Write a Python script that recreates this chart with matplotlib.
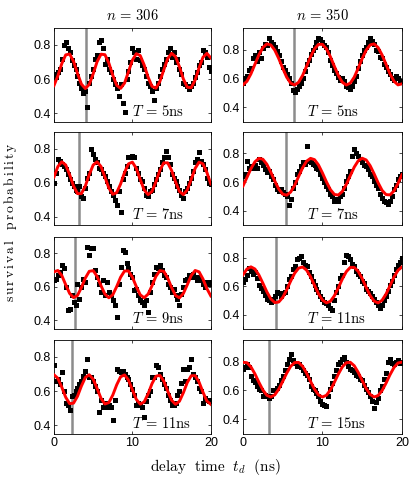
import matplotlib
matplotlib.use('Agg')
import matplotlib.pyplot as plt
import numpy as np

plt.rcParams['mathtext.fontset'] = 'cm'
plt.rcParams['font.family'] = ['Liberation Sans', 'DejaVu Sans']

# delay times (ns): measured points every 0.25 ns, fitted curve sampled every 0.5 ns
t_data = np.linspace(0, 20, 81)
t_fit = np.linspace(0, 20, 41)

# ---- n = 306 ----
surv_306_T5 = [0.63, 0.61, 0.64, 0.66, 0.72, 0.80, 0.82, 0.78, 0.76, 0.71, 0.68, 0.66, 0.62, 0.58, 0.55, 0.52,
               0.53, 0.44, 0.58, 0.62, 0.66, 0.72, 0.74, 0.82, 0.83, 0.78, 0.69, 0.72, 0.66, 0.64, 0.60, 0.57,
               0.55, 0.50, 0.57, 0.46, 0.41, 0.60, 0.65, 0.70, 0.78, 0.76, 0.72, 0.77, 0.71, 0.68, 0.66, 0.62,
               0.58, 0.56, 0.53, 0.48, 0.55, 0.58, 0.62, 0.66, 0.69, 0.72, 0.76, 0.78, 0.73, 0.76, 0.70, 0.72,
               0.66, 0.63, 0.58, 0.57, 0.56, 0.54, 0.56, 0.58, 0.61, 0.64, 0.68, 0.70, 0.77, 0.76, 0.73, 0.67, 0.65]
fit_306_T5 = [0.562, 0.620, 0.691, 0.742, 0.747, 0.704, 0.634, 0.571, 0.545, 0.569, 0.631, 0.702, 0.746, 0.743,
              0.694, 0.623, 0.564, 0.546, 0.577, 0.643, 0.711, 0.749, 0.738, 0.683, 0.612, 0.558, 0.547, 0.586,
              0.654, 0.720, 0.751, 0.732, 0.672, 0.601, 0.553, 0.550, 0.595, 0.666, 0.728, 0.751, 0.724]

surv_306_T7 = [0.60, 0.66, 0.74, 0.73, 0.71, 0.70, 0.68, 0.65, 0.62, 0.60, 0.58, 0.56, 0.55, 0.58, 0.52, 0.51,
               0.57, 0.63, 0.66, 0.80, 0.77, 0.74, 0.72, 0.69, 0.68, 0.66, 0.64, 0.61, 0.58, 0.55, 0.53, 0.50,
               0.47, 0.55, 0.43, 0.62, 0.66, 0.70, 0.75, 0.75, 0.76, 0.75, 0.69, 0.66, 0.62, 0.61, 0.57, 0.53,
               0.52, 0.55, 0.56, 0.59, 0.62, 0.65, 0.68, 0.72, 0.75, 0.79, 0.75, 0.71, 0.65, 0.63, 0.61, 0.58,
               0.56, 0.53, 0.51, 0.55, 0.57, 0.60, 0.63, 0.67, 0.72, 0.74, 0.78, 0.73, 0.71, 0.68, 0.63, 0.60, 0.59]
fit_306_T7 = [0.634, 0.696, 0.724, 0.705, 0.648, 0.581, 0.536, 0.536, 0.581, 0.648, 0.705, 0.724, 0.696, 0.634,
              0.569, 0.532, 0.542, 0.593, 0.661, 0.712, 0.722, 0.685, 0.620, 0.558, 0.530, 0.549, 0.606, 0.673,
              0.718, 0.718, 0.673, 0.606, 0.549, 0.530, 0.558, 0.620, 0.685, 0.722, 0.712, 0.661, 0.593]

surv_306_T9 = [0.64, 0.65, 0.67, 0.69, 0.73, 0.71, 0.60, 0.46, 0.47, 0.55, 0.51, 0.49, 0.62, 0.53, 0.60, 0.65,
               0.63, 0.84, 0.79, 0.83, 0.83, 0.70, 0.66, 0.62, 0.57, 0.64, 0.55, 0.63, 0.57, 0.55, 0.52, 0.49,
               0.42, 0.62, 0.72, 0.82, 0.81, 0.74, 0.71, 0.68, 0.66, 0.58, 0.59, 0.55, 0.52, 0.51, 0.49, 0.52,
               0.45, 0.57, 0.63, 0.68, 0.72, 0.71, 0.73, 0.70, 0.67, 0.66, 0.62, 0.60, 0.57, 0.59, 0.55, 0.53,
               0.49, 0.56, 0.60, 0.64, 0.65, 0.67, 0.66, 0.68, 0.66, 0.64, 0.66, 0.64, 0.62, 0.60, 0.63, 0.62, 0.63]
fit_306_T9 = [0.690, 0.698, 0.668, 0.613, 0.561, 0.536, 0.549, 0.596, 0.653, 0.693, 0.697, 0.663, 0.607, 0.557,
              0.535, 0.553, 0.602, 0.658, 0.695, 0.695, 0.658, 0.602, 0.553, 0.535, 0.557, 0.607, 0.663, 0.697,
              0.693, 0.653, 0.596, 0.549, 0.535, 0.561, 0.613, 0.668, 0.698, 0.690, 0.647, 0.590, 0.546]

surv_306_T11 = [0.75, 0.66, 0.67, 0.64, 0.71, 0.60, 0.53, 0.52, 0.49, 0.57, 0.58, 0.60, 0.62, 0.64, 0.66, 0.69,
                0.72, 0.79, 0.68, 0.68, 0.66, 0.63, 0.60, 0.48, 0.55, 0.51, 0.53, 0.51, 0.52, 0.51, 0.43, 0.55,
                0.73, 0.72, 0.71, 0.72, 0.70, 0.68, 0.67, 0.64, 0.61, 0.58, 0.52, 0.53, 0.52, 0.51, 0.45, 0.54,
                0.58, 0.60, 0.68, 0.68, 0.75, 0.74, 0.70, 0.67, 0.64, 0.62, 0.58, 0.55, 0.52, 0.52, 0.53, 0.58,
                0.60, 0.65, 0.73, 0.66, 0.73, 0.74, 0.79, 0.70, 0.68, 0.66, 0.62, 0.60, 0.53, 0.56, 0.55, 0.54, 0.55]
fit_306_T11 = [0.696, 0.675, 0.623, 0.564, 0.527, 0.530, 0.570, 0.630, 0.680, 0.696, 0.670, 0.616, 0.558, 0.525,
               0.533, 0.577, 0.637, 0.684, 0.695, 0.665, 0.608, 0.552, 0.524, 0.537, 0.584, 0.644, 0.687, 0.693,
               0.659, 0.601, 0.547, 0.523, 0.541, 0.591, 0.651, 0.690, 0.691, 0.653, 0.594, 0.542, 0.523]

# ---- n = 350 ----
surv_350_T5 = [0.57, 0.60, 0.62, 0.66, 0.67, 0.74, 0.76, 0.72, 0.78, 0.74, 0.81, 0.84, 0.83, 0.88, 0.85, 0.84,
               0.82, 0.79, 0.76, 0.72, 0.68, 0.66, 0.63, 0.60, 0.57, 0.52, 0.51, 0.53, 0.55, 0.57, 0.60, 0.65,
               0.70, 0.73, 0.77, 0.80, 0.82, 0.85, 0.88, 0.87, 0.85, 0.83, 0.82, 0.78, 0.73, 0.69, 0.66, 0.64,
               0.61, 0.59, 0.60, 0.58, 0.55, 0.54, 0.53, 0.55, 0.58, 0.62, 0.67, 0.72, 0.76, 0.80, 0.82, 0.85,
               0.88, 0.86, 0.84, 0.80, 0.79, 0.75, 0.74, 0.70, 0.68, 0.65, 0.63, 0.60, 0.59, 0.62, 0.60, 0.58, 0.58]
fit_350_T5 = [0.556, 0.581, 0.632, 0.698, 0.763, 0.814, 0.839, 0.832, 0.796, 0.738, 0.671, 0.609, 0.568, 0.555,
              0.574, 0.621, 0.684, 0.750, 0.805, 0.836, 0.836, 0.805, 0.750, 0.684, 0.621, 0.574, 0.555, 0.568,
              0.609, 0.671, 0.738, 0.796, 0.832, 0.839, 0.814, 0.763, 0.698, 0.632, 0.581, 0.556, 0.563]

surv_350_T7 = [0.64, 0.66, 0.75, 0.70, 0.71, 0.70, 0.72, 0.70, 0.76, 0.74, 0.72, 0.69, 0.67, 0.68, 0.64, 0.62,
               0.58, 0.55, 0.54, 0.55, 0.53, 0.52, 0.50, 0.44, 0.48, 0.56, 0.60, 0.66, 0.68, 0.71, 0.74, 0.73,
               0.85, 0.75, 0.74, 0.73, 0.72, 0.70, 0.69, 0.66, 0.63, 0.60, 0.57, 0.55, 0.52, 0.50, 0.47, 0.48,
               0.47, 0.50, 0.52, 0.56, 0.61, 0.64, 0.68, 0.78, 0.83, 0.80, 0.78, 0.76, 0.74, 0.72, 0.71, 0.69,
               0.66, 0.64, 0.61, 0.58, 0.56, 0.52, 0.49, 0.47, 0.46, 0.45, 0.47, 0.50, 0.55, 0.58, 0.62, 0.64, 0.66]
fit_350_T7 = [0.573, 0.633, 0.694, 0.742, 0.766, 0.760, 0.725, 0.670, 0.608, 0.552, 0.516, 0.509, 0.531, 0.578,
              0.639, 0.700, 0.746, 0.766, 0.757, 0.720, 0.664, 0.602, 0.548, 0.514, 0.510, 0.535, 0.584, 0.645,
              0.705, 0.749, 0.767, 0.755, 0.715, 0.658, 0.596, 0.543, 0.513, 0.511, 0.539, 0.590, 0.652]

surv_350_T11 = [0.63, 0.65, 0.68, 0.73, 0.71, 0.69, 0.70, 0.66, 0.61, 0.59, 0.57, 0.54, 0.51, 0.50, 0.49, 0.51,
                0.53, 0.56, 0.55, 0.53, 0.55, 0.56, 0.60, 0.65, 0.67, 0.72, 0.74, 0.79, 0.80, 0.81, 0.77, 0.75,
                0.74, 0.70, 0.67, 0.64, 0.61, 0.58, 0.56, 0.53, 0.51, 0.49, 0.48, 0.47, 0.45, 0.43, 0.50, 0.56,
                0.60, 0.66, 0.68, 0.77, 0.82, 0.81, 0.79, 0.76, 0.74, 0.71, 0.69, 0.67, 0.64, 0.62, 0.58, 0.57,
                0.55, 0.53, 0.51, 0.49, 0.47, 0.45, 0.47, 0.50, 0.53, 0.57, 0.61, 0.64, 0.68, 0.72, 0.75, 0.77, 0.80]
fit_350_T11 = [0.680, 0.722, 0.737, 0.722, 0.680, 0.622, 0.561, 0.511, 0.485, 0.489, 0.521, 0.575, 0.637, 0.692,
               0.728, 0.736, 0.714, 0.667, 0.607, 0.547, 0.503, 0.483, 0.494, 0.533, 0.589, 0.651, 0.703, 0.733,
               0.733, 0.705, 0.654, 0.592, 0.535, 0.495, 0.483, 0.501, 0.545, 0.604, 0.665, 0.712, 0.736]

surv_350_T15 = [0.75, 0.76, 0.78, 0.76, 0.70, 0.67, 0.66, 0.63, 0.61, 0.60, 0.56, 0.57, 0.56, 0.55, 0.56, 0.60,
                0.60, 0.62, 0.64, 0.67, 0.70, 0.74, 0.78, 0.82, 0.85, 0.81, 0.79, 0.77, 0.78, 0.76, 0.74, 0.72,
                0.71, 0.68, 0.63, 0.61, 0.60, 0.58, 0.56, 0.53, 0.51, 0.50, 0.49, 0.56, 0.61, 0.65, 0.70, 0.74,
                0.78, 0.80, 0.82, 0.83, 0.80, 0.77, 0.75, 0.74, 0.73, 0.71, 0.70, 0.68, 0.67, 0.64, 0.61, 0.59,
                0.56, 0.53, 0.48, 0.52, 0.55, 0.60, 0.63, 0.68, 0.72, 0.80, 0.82, 0.79, 0.78, 0.80, 0.81, 0.79, 0.80]
fit_350_T15 = [0.795, 0.792, 0.763, 0.715, 0.657, 0.604, 0.567, 0.555, 0.570, 0.609, 0.663, 0.720, 0.767, 0.793,
               0.794, 0.767, 0.720, 0.663, 0.609, 0.570, 0.555, 0.567, 0.604, 0.657, 0.714, 0.763, 0.792, 0.795,
               0.771, 0.725, 0.669, 0.614, 0.573, 0.555, 0.565, 0.599, 0.651, 0.709, 0.759, 0.790, 0.796]

panels = [
    [(surv_306_T5, fit_306_T5, 4.08, '5'), (surv_350_T5, fit_350_T5, 6.38, '5')],
    [(surv_306_T7, fit_306_T7, 3.22, '7'), (surv_350_T7, fit_350_T7, 5.37, '7')],
    [(surv_306_T9, fit_306_T9, 2.68, '9'), (surv_350_T11, fit_350_T11, 4.15, '11')],
    [(surv_306_T11, fit_306_T11, 2.25, '11'), (surv_350_T15, fit_350_T15, 3.27, '15')],
]
n_values = ['306', '350']

fig = plt.figure(figsize=(4.15, 4.8), dpi=100)

col_x = [(0.130, 0.378), (0.5855, 0.383)]
row_y = [(0.746, 0.196), (0.531, 0.194), (0.315, 0.192), (0.096, 0.196)]
col_ylim = [(0.35, 0.9), (0.3, 0.95)]
col_label_x = [10, 8]

for r in range(4):
    for c in range(2):
        surv, fit, t_mark, T = panels[r][c]
        ax = fig.add_axes([col_x[c][0], row_y[r][0], col_x[c][1], row_y[r][1]])
        ax.axvline(t_mark, color='#8c8c8c', lw=1.8, zorder=1)
        ax.plot(t_data, surv, 's', color='black', ms=3.6, mew=0, zorder=2)
        ax.plot(t_fit, fit, '-', color='red', lw=2.1, zorder=3)
        ax.set_xlim(0, 20)
        ax.set_ylim(*col_ylim[c])
        ax.set_xticks([0, 10, 20])
        ax.set_yticks([0.4, 0.6, 0.8])
        ax.tick_params(direction='in', top=True, right=True, length=2.5, width=0.5,
                       labelsize=9, pad=2.5)
        if r < 3:
            ax.set_xticklabels([])
        for s in ax.spines.values():
            s.set_linewidth(0.6)
        ax.text(col_label_x[c], 0.11, r'$T\,=\,' + T + r'\mathrm{ns}$', transform=ax.get_xaxis_transform(),
                ha='left', va='center', fontsize=10.5)
        if r == 0:
            ax.set_title(r'$n\,=\,' + n_values[c] + '$', fontsize=10.5, pad=6)

fig.text(0.52, 0.027, r'$\mathrm{delay\ \ time}\ \ t_d\ \ (\mathrm{ns})$', ha='center', va='center', fontsize=11)
fig.text(0.025, 0.5375, r'$\mathrm{s\,u\,r\,v\,i\,v\,a\,l\ \ \ p\,r\,o\,b\,a\,b\,i\,l\,i\,t\,y}$', ha='center',
         va='center', rotation=90, fontsize=9.8)

fig.savefig('out.png', dpi=100)
